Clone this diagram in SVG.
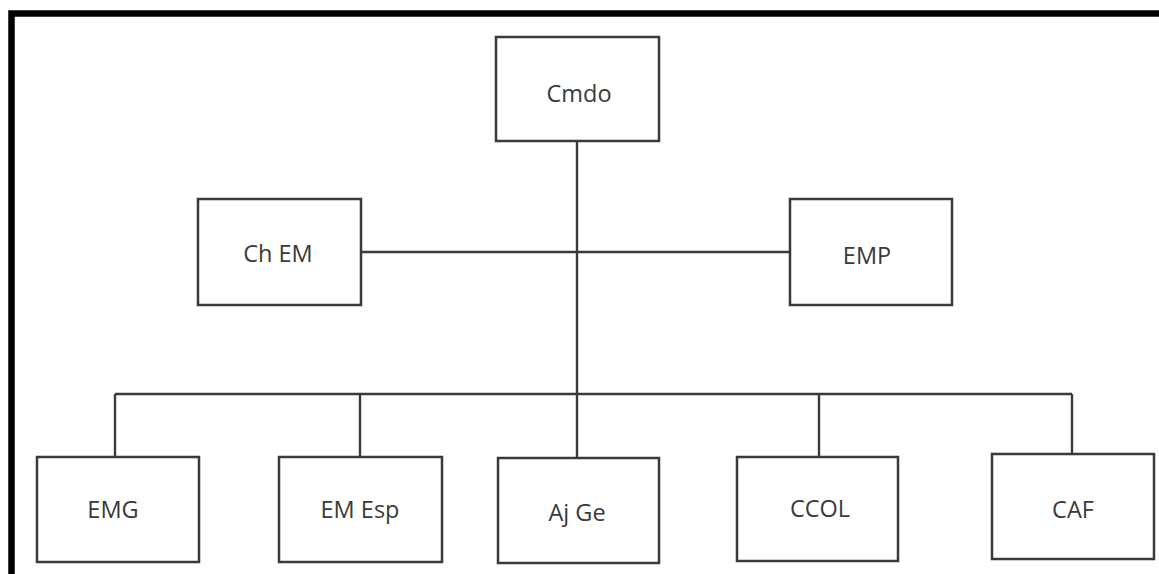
<svg xmlns="http://www.w3.org/2000/svg" width="1159" height="574" viewBox="0 0 1159 574">
  <style>
    .box { fill: #ffffff; stroke: #3a3a3a; stroke-width: 2.5; }
    .lbl { font-family: "Open Sans", "Liberation Sans", sans-serif; font-size: 23.5px; fill: #3a3a3a; text-anchor: middle; }
    .wire { fill: none; stroke: #3a3a3a; stroke-width: 2.4; }
  </style>
  <rect width="1159" height="574" fill="#ffffff"/>
  <!-- outer frame (top and left edges) -->
  <path d="M11.5,574 V13.5 H1159" fill="none" stroke="#000000" stroke-width="6.5"/>

  <g id="connectors">
    <path class="wire" d="M577,141 V458"/>
    <path class="wire" d="M361,252 H790"/>
    <path class="wire" d="M115,394 H1072"/>
    <path class="wire" d="M115,394 V457"/>
    <path class="wire" d="M360,394 V457"/>
    <path class="wire" d="M819,394 V457"/>
    <path class="wire" d="M1072,394 V454"/>
  </g>

  <g id="cmdo">
    <rect class="box" x="496" y="37" width="163" height="104"/>
    <text class="lbl" x="579" y="102">Cmdo</text>
  </g>
  <g id="ch-em">
    <rect class="box" x="198" y="199" width="163" height="106"/>
    <text class="lbl" x="278" y="262">Ch EM</text>
  </g>
  <g id="emp">
    <rect class="box" x="790" y="199" width="162" height="106"/>
    <text class="lbl" x="867" y="264">EMP</text>
  </g>
  <g id="emg">
    <rect class="box" x="37" y="457" width="162" height="105"/>
    <text class="lbl" x="113" y="518">EMG</text>
  </g>
  <g id="em-esp">
    <rect class="box" x="279" y="457" width="163" height="105"/>
    <text class="lbl" x="360" y="518">EM Esp</text>
  </g>
  <g id="aj-ge">
    <rect class="box" x="498" y="458" width="161" height="105"/>
    <text class="lbl" x="577" y="521">Aj Ge</text>
  </g>
  <g id="ccol">
    <rect class="box" x="737" y="457" width="161" height="104"/>
    <text class="lbl" x="820" y="517">CCOL</text>
  </g>
  <g id="caf">
    <rect class="box" x="992" y="454" width="162" height="105"/>
    <text class="lbl" x="1073" y="518">CAF</text>
  </g>
</svg>
